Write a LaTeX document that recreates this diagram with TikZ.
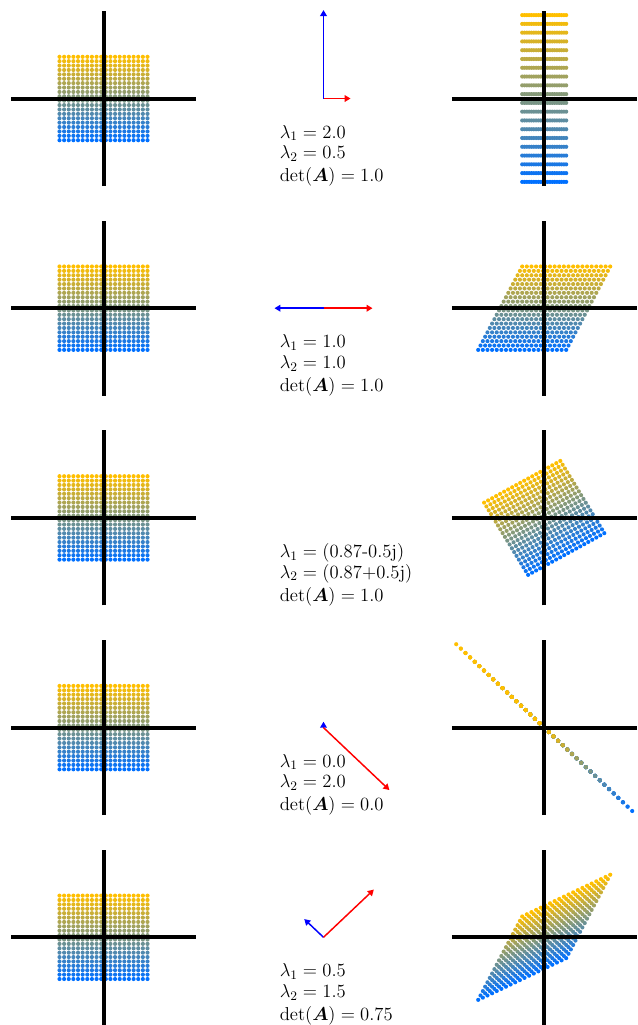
\RequirePackage{fix-cm}
\documentclass[tikz,border=0pt]{standalone}
\usepackage{amsmath,bm}
\usepackage{tikz}
\usetikzlibrary{arrows.meta,positioning,calc}

\definecolor{dotgold}{RGB}{255,191,0}
\definecolor{dotblue}{RGB}{0,112,255}

% 20x20 points of [-1,1]^2 mapped by [[#1,#2],[#3,#4]]
\newcommand{\gridmap}[4]{%
  \foreach \j in {0,...,19}{%
    \pgfmathsetmacro{\gy}{-1+2*\j/19}%
    \pgfmathsetmacro{\gmix}{100*\j/19}%
    \colorlet{dotc}{dotgold!\gmix!dotblue}%
    \foreach \i in {0,...,19}{%
      \pgfmathsetmacro{\gx}{-1+2*\i/19}%
      \fill[dotc] ({#1*\gx+#2*\gy},{#3*\gx+#4*\gy}) circle[radius=1.55pt];
    }%
  }%
}
\newcommand{\axcross}{%
  \draw[axisline] (-2.1,0) -- (2.1,0);
  \draw[axisline] (0,-2.1) -- (0,2.1);
}

\begin{document}
\begin{tikzpicture}[
    x=0.75pt, y=-0.75pt,
    panel/.style={x=33pt, y=31.275pt},
    axisline/.style={line width=3pt, black},
    vecblue/.style={blue, line width=1.1pt, -{Triangle[length=4.5pt,width=5pt]}, shorten >=-3.8pt},
    vecred/.style={red, line width=1.1pt, -{Triangle[length=4.5pt,width=5pt]}, shorten >=-3.8pt},
    eigtext/.style={anchor=base west, inner sep=0pt, font=\fontsize{14}{17}\selectfont}
]
\useasboundingbox (0,0) rectangle (638,1025);

% Row 1: stretch
\begin{scope}[shift={(103.5,98.5)}, panel]
  \gridmap{1}{0}{0}{1}
  \axcross
\end{scope}
\begin{scope}[shift={(323.5,98.5)}, panel]
  \coordinate (o1) at (0,0);
  \coordinate (b1) at (0,2);
  \coordinate (r1) at (0.5,0);
  \draw[vecblue] (o1) -- (b1);
  \draw[vecred] (o1) -- (r1);
\end{scope}
\begin{scope}[shift={(544.2,98.5)}, panel]
  \gridmap{0.5}{0}{0}{2}
  \axcross
\end{scope}
\node[eigtext] (l1a) at (279.5,138.0) {$\lambda_1 = 2.0$};
\node[eigtext] (l1b) at (279.5,158.7) {$\lambda_2 = 0.5$};
\node[eigtext] (l1c) at (279.5,181.7) {$\det(\bm{A}) = 1.0$};

% Row 2: shear
\begin{scope}[shift={(103.5,308.2)}, panel]
  \gridmap{1}{0}{0}{1}
  \axcross
\end{scope}
\begin{scope}[shift={(323.5,308.2)}, panel]
  \coordinate (o2) at (0,0);
  \coordinate (b2) at (-1,0);
  \coordinate (r2) at (1,0);
  \draw[vecblue] (o2) -- (b2);
  \draw[vecred] (o2) -- (r2);
\end{scope}
\begin{scope}[shift={(544.2,308.2)}, panel]
  \gridmap{1}{0.5}{0}{1}
  \axcross
\end{scope}
\node[eigtext] (l2a) at (279.5,347.7) {$\lambda_1 = 1.0$};
\node[eigtext] (l2b) at (279.5,368.4) {$\lambda_2 = 1.0$};
\node[eigtext] (l2c) at (279.5,391.4) {$\det(\bm{A}) = 1.0$};

% Row 3: rotation
\begin{scope}[shift={(103.5,517.9)}, panel]
  \gridmap{1}{0}{0}{1}
  \axcross
\end{scope}
\begin{scope}[shift={(544.2,517.9)}, panel]
  \gridmap{0.866}{-0.5}{0.5}{0.866}
  \axcross
\end{scope}
\node[eigtext] (l3a) at (279.5,557.4) {$\lambda_1 = \text{(0.87-0.5j)}$};
\node[eigtext] (l3b) at (279.5,578.1) {$\lambda_2 = \text{(0.87+0.5j)}$};
\node[eigtext] (l3c) at (279.5,601.1) {$\det(\bm{A}) = 1.0$};

% Row 4: projection onto a line
\begin{scope}[shift={(103.5,727.6)}, panel]
  \gridmap{1}{0}{0}{1}
  \axcross
\end{scope}
\begin{scope}[shift={(323.5,727.6)}, panel]
  \coordinate (o4) at (0,0);
  \coordinate (b4) at (0,0.02);
  \coordinate (r4) at (1.414,-1.414);
  \draw[vecblue] (o4) -- (b4);
  \draw[vecred] (o4) -- (r4);
\end{scope}
\begin{scope}[shift={(544.2,727.6)}, panel]
  \gridmap{1}{-1}{-1}{1}
  \axcross
\end{scope}
\node[eigtext] (l4a) at (279.5,767.1) {$\lambda_1 = 0.0$};
\node[eigtext] (l4b) at (279.5,787.8) {$\lambda_2 = 2.0$};
\node[eigtext] (l4c) at (279.5,810.8) {$\det(\bm{A}) = 0.0$};

% Row 5: symmetric stretch
\begin{scope}[shift={(103.5,937.3)}, panel]
  \gridmap{1}{0}{0}{1}
  \axcross
\end{scope}
\begin{scope}[shift={(323.5,937.3)}, panel]
  \coordinate (o5) at (0,0);
  \coordinate (b5) at (-0.354,0.354);
  \coordinate (r5) at (1.061,1.061);
  \draw[vecblue] (o5) -- (b5);
  \draw[vecred] (o5) -- (r5);
\end{scope}
\begin{scope}[shift={(544.2,937.3)}, panel]
  \gridmap{1}{0.5}{0.5}{1}
  \axcross
\end{scope}
\node[eigtext] (l5a) at (279.5,976.8) {$\lambda_1 = 0.5$};
\node[eigtext] (l5b) at (279.5,997.5) {$\lambda_2 = 1.5$};
\node[eigtext] (l5c) at (279.5,1020.5) {$\det(\bm{A}) = 0.75$};

\end{tikzpicture}
\end{document}
